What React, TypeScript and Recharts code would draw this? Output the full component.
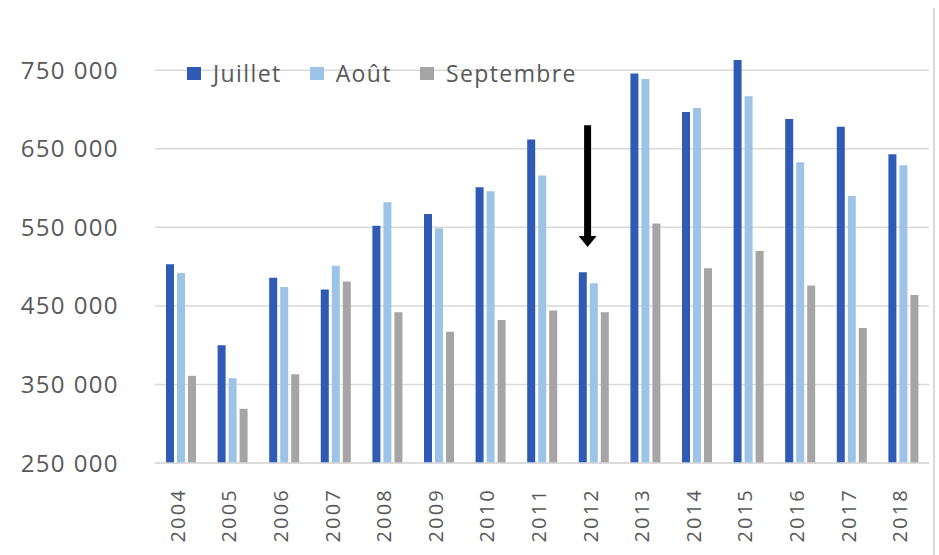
import {
  BarChart,
  Bar,
  XAxis,
  YAxis,
  ReferenceLine,
} from "recharts";

const years = [
  "2004", "2005", "2006", "2007", "2008", "2009", "2010", "2011",
  "2012", "2013", "2014", "2015", "2016", "2017", "2018",
];
const juillet = [
  503000, 400000, 486000, 471000, 552000, 567000, 601000, 662000,
  493000, 746000, 697000, 763000, 688000, 678000, 643000,
];
const aout = [
  492000, 358000, 474000, 501000, 582000, 549000, 596000, 616000,
  479000, 739000, 702000, 717000, 633000, 590000, 629000,
];
const septembre = [
  361000, 319000, 363000, 481000, 442000, 417000, 432000, 444000,
  442000, 555000, 498000, 520000, 476000, 422000, 464000,
];
const yTicks = [250000, 350000, 450000, 550000, 650000, 750000];
// arrow pointing at 2012 (top, tip)
const arrowYear = "2012";
const arrowFrom = 680000;
const arrowTo = 525000;

const series = [
  { key: "juillet", name: "Juillet", color: "#2F5BB7" },
  { key: "aout", name: "Août", color: "#9DC3E6" },
  { key: "septembre", name: "Septembre", color: "#A5A5A5" },
];

const data = years.map((year, i) => ({
  year,
  juillet: juillet[i],
  aout: aout[i],
  septembre: septembre[i],
}));

const FONT = "'Open Sans', sans-serif";
const TEXT = "#595959";
const GRID = "#d9d9d9";

const fmt = (v: number) => `${Math.round(v / 1000)} 000`;

const YearTick = (props: any) => {
  const { x, y, payload } = props;
  return (
    <text
      x={x}
      y={y}
      dy={4}
      transform={`rotate(-90 ${x} ${y})`}
      textAnchor="end"
      fontFamily={FONT}
      fontSize={20}
      letterSpacing={2.2}
      fill={TEXT}
    >
      {payload.value}
    </text>
  );
};

const LegendBox = () => (
  <div
    style={{
      position: "absolute",
      left: 187,
      top: 57,
      display: "flex",
      alignItems: "center",
      fontFamily: FONT,
    }}
  >
    {series.map((s) => (
      <div
        key={s.key}
        style={{ display: "flex", alignItems: "center", marginRight: 28 }}
      >
        <span
          style={{
            width: 14,
            height: 13,
            background: s.color,
            display: "inline-block",
            marginRight: 12,
          }}
        />
        <span style={{ fontSize: 23, letterSpacing: 1.4, color: TEXT }}>
          {s.name}
        </span>
      </div>
    ))}
  </div>
);

const Arrow = (props: any) => {
  const { x1, y1, y2 } = props;
  if (x1 == null) return null;
  const x = x1 - 6;
  return (
    <g>
      <line x1={x} y1={y1} x2={x} y2={y2 - 8} stroke="#000" strokeWidth={7} />
      <polygon
        points={`${x - 9},${y2 - 11} ${x + 9},${y2 - 11} ${x},${y2}`}
        fill="#000"
      />
    </g>
  );
};

export default function App() {
  return (
    <div
      style={{
        position: "absolute",
        left: 0,
        top: 0,
        width: 939,
        height: 555,
        background: "#fff",
      }}
    >
      <BarChart
        width={939}
        height={555}
        data={data}
        margin={{ top: 31, right: 10, left: 0, bottom: 0 }}
        barSize={8}
        barGap={3}
      >
        {yTicks.map((v) => (
          <ReferenceLine
            key={v}
            y={v}
            stroke={GRID}
            strokeWidth={1.5}
            zIndex={-100}
          />
        ))}
        <XAxis
          dataKey="year"
          height={92}
          tick={<YearTick />}
          tickLine={false}
          tickMargin={19}
          axisLine={{ stroke: GRID, strokeWidth: 1.5 }}
          interval={0}
        />
        <YAxis
          width={155}
          domain={[250000, 800000]}
          ticks={yTicks}
          tickFormatter={fmt}
          axisLine={false}
          tickLine={false}
          tickSize={0}
          tickMargin={36}
          allowDataOverflow
          tick={{
            fontFamily: FONT,
            fontSize: 24,
            letterSpacing: 1.4,
            fill: TEXT,
          }}
        />
        {series.map((s) => (
          <Bar
            key={s.key}
            dataKey={s.key}
            name={s.name}
            fill={s.color}
            isAnimationActive={false}
          />
        ))}
        <ReferenceLine
          segment={[
            { x: arrowYear, y: arrowFrom },
            { x: arrowYear, y: arrowTo },
          ]}
          shape={<Arrow />}
          ifOverflow="visible"
        />
      </BarChart>
      <LegendBox />
      <div
        style={{
          position: "absolute",
          left: 933,
          top: 8,
          width: 2,
          height: 547,
          background: GRID,
        }}
      />
    </div>
  );
}
